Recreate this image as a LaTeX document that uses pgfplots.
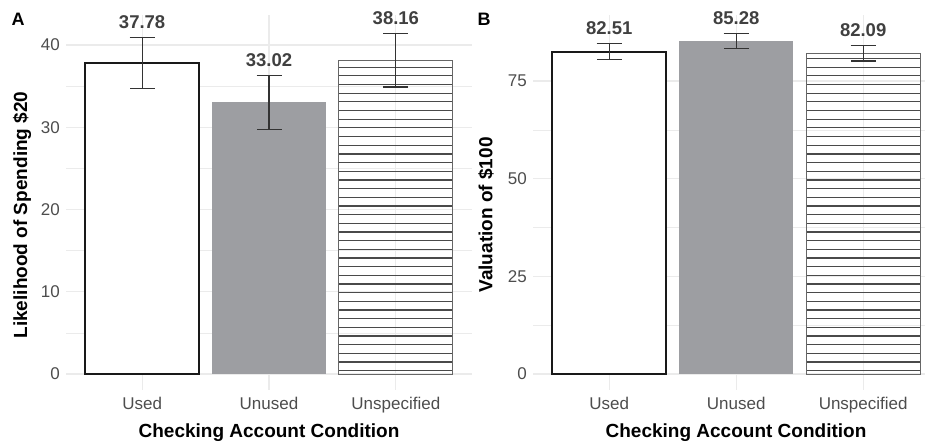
\documentclass[border=0pt]{standalone}
\usepackage{fontspec}
\setmainfont{Liberation Sans}
\usepackage{pgfplots}
\pgfplotsset{compat=1.18}
\definecolor{gridc}{HTML}{EBEBEB}
\definecolor{tickc}{HTML}{4D4D4D}
\definecolor{barg}{HTML}{9D9EA2}
\definecolor{errc}{HTML}{333333}
\definecolor{valc}{HTML}{404040}
\definecolor{hatchc}{HTML}{4A4A4A}
\newcommand{\hatchlines}{%
  \pgfsetstrokecolor{hatchc}\pgfsetlinewidth{1.1pt}%
  \foreach \k in {0,...,45}{%
    \pgfpathmoveto{\pgfpointadd{\pgfpointanchor{path picture bounding box}{south west}}{\pgfpoint{-2pt}{\k*8.67pt+3.3pt}}}%
    \pgfpathlineto{\pgfpointadd{\pgfpointanchor{path picture bounding box}{south west}}{\pgfpoint{130pt}{\k*8.67pt+3.3pt}}}%
    \pgfusepath{stroke}}}
\pgfplotsset{panel/.style={
  scale only axis, height=375pt, clip=false,
  axis line style={draw=none}, tick style={draw=none},
  major tick length=0pt, minor tick length=0pt,
  xtick={1,2,3}, xticklabels={Used,Unused,Unspecified},
  xmajorgrids, ymajorgrids, yminorgrids, minor y tick num=1,
  major grid style={gridc, line width=1.1pt},
  minor grid style={gridc, line width=0.55pt},
  tick label style={font=\fontsize{17}{20}\selectfont, text=tickc},
  xticklabel style={anchor=base, yshift=-19pt},
  yticklabel style={anchor=east, inner sep=0pt, xshift=-6pt},
  /pgf/number format/assume math mode=true,
}}
\pgfplotsset{errs/.style={draw=none, mark=none, error bars/.cd, y dir=both, y explicit,
    error bar style={line width=1.1pt, draw=errc, solid},
    error mark options={rotate=90, mark size=12.5pt, line width=1.1pt, draw=errc}},
  vals/.style={only marks, mark=none, point meta=explicit symbolic, nodes near coords,
    every node near coord/.append style={anchor=base, yshift=9pt, text=valc,
      font=\bfseries\fontsize{18.5}{21}\selectfont}},
  usedbar/.style={ybar, bar width=0.9, bar shift=0pt, fill=white, draw=black!90, line width=2pt},
  unusedbar/.style={ybar, bar width=0.9, bar shift=0pt, fill=barg, draw=none},
  unspbar/.style={ybar, bar width=0.9, bar shift=0pt, draw=black!60, line width=1pt,
    path picture={\hatchlines}}}
\begin{document}
\begin{tikzpicture}
\useasboundingbox (0,0) rectangle (925pt,445pt);
% Panel A
\begin{axis}[panel, at={(66pt,55pt)}, anchor=south west, width=406pt,
  xmin=0.4, xmax=3.6, ymin=-1.945, ymax=43.65, ytick={0,10,20,30,40}]
\addplot[usedbar] coordinates {(1,37.78)};
\addplot[unusedbar] coordinates {(2,33.02)};
\addplot[unspbar] coordinates {(3,38.16)};
\addplot[errs] coordinates {(1,37.78) +- (0,3.08) (2,33.02) +- (0,3.25) (3,38.16) +- (0,3.26)};
\addplot[vals] coordinates {(1,40.86)[37.78] (2,36.27)[33.02] (3,41.42)[38.16]};
\end{axis}
% Panel B
\begin{axis}[panel, at={(533pt,55pt)}, anchor=south west, width=392pt,
  xmin=0.4, xmax=3.487, ymin=-4.095, ymax=91.9, ytick={0,25,50,75}]
\addplot[usedbar] coordinates {(1,82.51)};
\addplot[unusedbar] coordinates {(2,85.28)};
\addplot[unspbar] coordinates {(3,82.09)};
\addplot[errs] coordinates {(1,82.51) +- (0,1.98) (2,85.28) +- (0,1.9) (3,82.09) +- (0,1.96)};
\addplot[vals] coordinates {(1,84.49)[82.51] (2,87.18)[85.28] (3,84.05)[82.09]};
\end{axis}
% titles
\node[anchor=base, font=\bfseries\fontsize{19}{22}\selectfont] at (269pt,8pt) {Checking Account Condition};
\node[anchor=base, font=\bfseries\fontsize{19}{22}\selectfont] at (736pt,8pt) {Checking Account Condition};
\node[rotate=90, font=\bfseries\fontsize{19}{22}\selectfont] at (22pt,230pt) {Likelihood of Spending \$20};
\node[rotate=90, font=\bfseries\fontsize{19}{22}\selectfont] at (486pt,230pt) {Valuation of \$100};
\node[font=\bfseries\fontsize{18}{21}\selectfont] at (18pt,426pt) {A};
\node[font=\bfseries\fontsize{18}{21}\selectfont] at (484pt,426pt) {B};
\end{tikzpicture}
\end{document}
